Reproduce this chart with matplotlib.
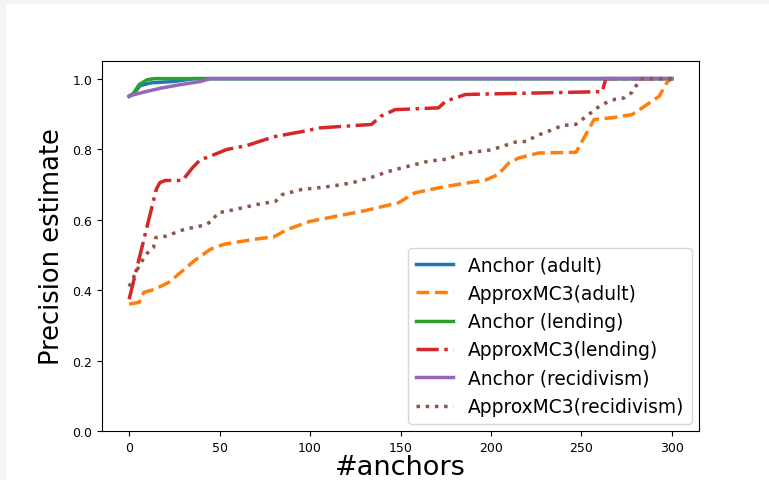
import matplotlib
matplotlib.use("Agg")
import matplotlib.pyplot as plt
from matplotlib.patches import Rectangle

# --- data (breakpoints) ---
anchor_adult_x = [0, 3, 6, 12, 25, 36, 300]
anchor_adult_y = [0.95, 0.96, 0.98, 0.988, 0.992, 1.0, 1.0]

mc_adult_x = [0, 5.5, 8, 14, 22, 28.5, 36, 45, 52.5, 69, 80, 87.5, 100, 131, 149, 158,
              171, 182, 197, 204, 210, 215.5, 226.5, 247, 252, 257, 267, 278, 283.6,
              289, 293, 297.4, 300]
mc_adult_y = [0.36, 0.365, 0.393, 0.402, 0.422, 0.45, 0.483, 0.516, 0.53, 0.544, 0.551,
              0.572, 0.595, 0.626, 0.648, 0.676, 0.69, 0.7, 0.712, 0.728, 0.761, 0.775,
              0.789, 0.791, 0.837, 0.884, 0.889, 0.898, 0.917, 0.936, 0.95, 0.99, 1.0]

anchor_lending_x = [0, 2, 5.5, 10, 14, 300]
anchor_lending_y = [0.95, 0.955, 0.983, 0.997, 1.0, 1.0]

mc_lending_x = [0, 15, 17, 20, 29.5, 35, 39.6, 43, 54, 65, 80, 98, 105, 134, 139, 147,
                171, 175, 186, 204, 261.5, 263.5, 300]
mc_lending_y = [0.374, 0.686, 0.705, 0.711, 0.711, 0.747, 0.771, 0.776, 0.799, 0.81,
                0.835, 0.852, 0.86, 0.87, 0.893, 0.912, 0.917, 0.936, 0.955, 0.957,
                0.963, 1.0, 1.0]

anchor_recid_x = [0, 3, 10, 17.5, 28.5, 39.6, 45, 300]
anchor_recid_y = [0.95, 0.955, 0.964, 0.973, 0.983, 0.992, 1.0, 1.0]

mc_recid_x = [0, 4.6, 9.2, 13.4, 14.7, 20.3, 30.4, 41.4, 46, 48.8, 54.3, 70.9, 81, 84.7,
              95.7, 101, 112, 123, 133.5, 143.6, 154.7, 165.7, 176.8, 182, 188, 199, 204,
              213.6, 220, 224.7, 234, 239.4, 246.8, 254, 258.7, 263.4, 269, 273.5, 278,
              281, 283.6, 300]
mc_recid_y = [0.41, 0.459, 0.501, 0.52, 0.549, 0.553, 0.572, 0.584, 0.596, 0.619, 0.624,
              0.643, 0.652, 0.671, 0.686, 0.688, 0.695, 0.704, 0.719, 0.737, 0.752, 0.766,
              0.772, 0.785, 0.79, 0.797, 0.804, 0.82, 0.822, 0.837, 0.855, 0.867, 0.87,
              0.898, 0.917, 0.931, 0.942, 0.945, 0.961, 0.986, 1.0, 1.0]

labels = ["Anchor (adult)", "ApproxMC3(adult)", "Anchor (lending)",
          "ApproxMC3(lending)", "Anchor (recidivism)", "ApproxMC3(recidivism)"]
y_ticks = [0.0, 0.2, 0.4, 0.6, 0.8, 1.0]
x_ticks = [0, 50, 100, 150, 200, 250, 300]

fig = plt.figure(figsize=(7.69, 4.81), dpi=100, facecolor="#f4f4f4")
fig.patches.append(Rectangle((6 / 769, 0), 1, 1 - 5 / 481, transform=fig.transFigure,
                             facecolor="white", edgecolor="none", zorder=-10))
ax = fig.add_axes([102 / 769, 49 / 481, 597 / 769, 370 / 481])

lw = 2.5
ax.plot(anchor_adult_x, anchor_adult_y, color="#1f77b4", lw=lw, label=labels[0])
ax.plot(mc_adult_x, mc_adult_y, color="#ff7f0e", lw=lw, ls="--", label=labels[1])
ax.plot(anchor_lending_x, anchor_lending_y, color="#2ca02c", lw=lw, label=labels[2])
ax.plot(mc_lending_x, mc_lending_y, color="#d62728", lw=lw, ls="-.", label=labels[3])
ax.plot(anchor_recid_x, anchor_recid_y, color="#9467bd", lw=lw, label=labels[4])
ax.plot(mc_recid_x, mc_recid_y, color="#8c564b", lw=lw, ls=":", label=labels[5])

ax.set_xlim(-15, 315)
ax.set_ylim(0, 1.05)
ax.set_xticks(x_ticks)
ax.set_yticks(y_ticks)
ax.tick_params(labelsize=9)
ax.set_xlabel("#anchors", fontsize=19.5, labelpad=0)
ax.set_ylabel("Precision estimate", fontsize=18.5, labelpad=5)
ax.legend(loc="lower right", fontsize=13.4, borderaxespad=0.4)

fig.savefig("out.png", dpi=100, facecolor=fig.get_facecolor())
